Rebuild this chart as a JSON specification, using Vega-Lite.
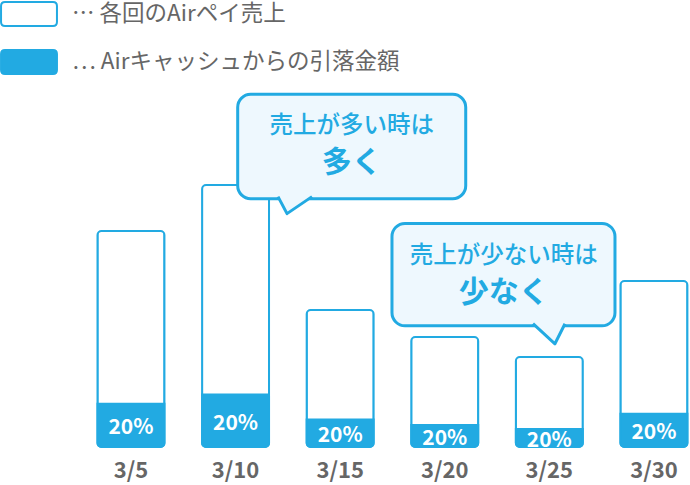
{
  "$schema": "https://vega.github.io/schema/vega-lite/v6.json",
  "width": 690,
  "height": 447,
  "autosize": {"type": "none"},
  "padding": {"top": 0, "left": 0, "right": 0, "bottom": 38},
  "background": "white",
  "config": {
    "view": {"stroke": null},
    "font": "Noto Sans CJK JP",
    "axis": {"grid": false}
  },
  "data": {
    "values": [
      {"日付": "3/5", "売上": 216, "引落": 43.2, "割合": 0.2},
      {"日付": "3/10", "売上": 262, "引落": 52.4, "割合": 0.2},
      {"日付": "3/15", "売上": 137, "引落": 27.4, "割合": 0.2},
      {"日付": "3/20", "売上": 110, "引落": 22, "割合": 0.2},
      {"日付": "3/25", "売上": 90, "引落": 18, "割合": 0.2},
      {"日付": "3/30", "売上": 166, "引落": 33.2, "割合": 0.2}
    ]
  },
  "resolve": {"scale": {"x": "independent", "y": "independent"}},
  "layer": [
    {
      "mark": {"type": "bar", "cornerRadius": 4, "stroke": "#22AAE2", "strokeWidth": 2},
      "encoding": {
        "x": {
          "field": "日付", "type": "nominal", "sort": null,
          "scale": {"type": "band", "range": [97.5, 687.4], "paddingInner": 0.36, "paddingOuter": 0},
          "axis": {"title": null, "domain": false, "ticks": false, "labelAngle": 0, "labelFontSize": 22, "labelFontWeight": "bold", "labelColor": "#666666", "labelPadding": 13, "labelFont": "Noto Sans CJK JP"}
        },
        "y": {"field": "売上", "type": "quantitative", "scale": {"domain": [0, 447]}, "axis": null},
        "fill": {
          "datum": "各回のAirペイ売上",
          "type": "nominal",
          "scale": {"domain": ["各回のAirペイ売上", "Airキャッシュからの引落金額"], "range": ["#ffffff", "#22AAE2"]},
          "legend": {
            "title": null,
            "orient": "none",
            "legendX": 16,
            "legendY": 1,
            "symbolType": "M-2,-1L2,-1Q2.33,-1 2.33,-0.67L2.33,0.67Q2.33,1 2,1L-2,1Q-2.33,1 -2.33,0.67L-2.33,-0.67Q-2.33,-1 -2,-1Z",
            "symbolSize": 576,
            "symbolStrokeColor": "#22AAE2",
            "symbolStrokeWidth": 2,
            "symbolOpacity": 1,
            "labelFontSize": 22.5,
            "labelColor": "#666666",
            "labelFont": "Noto Sans CJK JP",
            "labelOffset": 30,
            "rowPadding": 16,
            "labelLimit": 600,
            "labelExpr": "'⋯  ' + datum.label"
          }
        }
      }
    },
    {
      "mark": {"type": "bar", "cornerRadiusBottomLeft": 4, "cornerRadiusBottomRight": 4, "stroke": "#22AAE2", "strokeWidth": 2},
      "encoding": {
        "x": {
          "field": "日付", "type": "nominal", "sort": null,
          "scale": {"type": "band", "range": [97.5, 687.4], "paddingInner": 0.36, "paddingOuter": 0},
          "axis": null
        },
        "y": {"field": "引落", "type": "quantitative", "scale": {"domain": [0, 447]}, "axis": null},
        "fill": {"datum": "Airキャッシュからの引落金額", "type": "nominal"}
      }
    },
    {
      "mark": {"type": "text", "color": "white", "fontSize": 21, "fontWeight": "bold", "baseline": "middle", "dy": 3, "font": "Noto Sans CJK JP"},
      "encoding": {
        "x": {
          "field": "日付", "type": "nominal", "sort": null,
          "scale": {"type": "band", "range": [97.5, 687.4], "paddingInner": 0.36, "paddingOuter": 0},
          "axis": null
        },
        "y": {"field": "引落", "type": "quantitative", "scale": {"domain": [0, 894]}, "axis": null},
        "text": {"field": "割合", "type": "quantitative", "format": ".0%"}
      }
    },
    {
      "data": {"name": "bubbles", "values": [
        {"吹き出し": "多く", "見出し": "売上が多い時は", "強調": "多く", "左": 1.52, "右": 3.70, "上": 355, "下": 250, "中心": 2.61, "尾x": 2.068, "尾y": 243.5},
        {"吹き出し": "少なく", "見出し": "売上が少ない時は", "強調": "少なく", "左": 2.995, "右": 5.127, "上": 225, "下": 122, "中心": 4.063, "尾x": 4.496, "尾y": 114}
      ]},
      "resolve": {"scale": {"x": "shared", "y": "shared"}},
      "layer": [
        {
          "mark": {"type": "rect", "cornerRadius": 13, "fill": "#EEF8FE", "stroke": "#22AAE2", "strokeWidth": 3},
          "encoding": {
            "x": {"field": "左", "type": "quantitative", "scale": {"domain": [0, 6], "range": [78.7, 706.3]}, "axis": null},
            "x2": {"field": "右"},
            "y": {"field": "上", "type": "quantitative", "scale": {"domain": [0, 447]}, "axis": null},
            "y2": {"field": "下"}
          }
        },
        {
          "mark": {"type": "point", "filled": false, "fill": "#EEF8FE", "stroke": "#22AAE2", "strokeWidth": 3, "strokeJoin": "round", "opacity": 1, "fillOpacity": 1, "strokeOpacity": 1, "size": 1156},
          "encoding": {
            "x": {"field": "尾x", "type": "quantitative"},
            "y": {"field": "尾y", "type": "quantitative"},
            "shape": {
              "field": "吹き出し", "type": "nominal",
              "scale": {"domain": ["多く", "少なく"], "range": ["M-1,-0.5L-0.47,0.5L1,-0.5", "M-0.94,-0.59L0.35,0.59L0.94,-0.59"]},
              "legend": null
            }
          }
        },
        {
          "mark": {"type": "text", "color": "#22AAE2", "fontSize": 23.5, "fontWeight": 500, "baseline": "middle", "dy": 32, "font": "Noto Sans CJK JP"},
          "encoding": {
            "x": {"field": "中心", "type": "quantitative"},
            "y": {"field": "上", "type": "quantitative"},
            "text": {"field": "見出し"}
          }
        },
        {
          "mark": {"type": "text", "color": "#22AAE2", "fontSize": 30, "fontWeight": "bold", "baseline": "middle", "dy": 69, "font": "Noto Sans CJK JP"},
          "encoding": {
            "x": {"field": "中心", "type": "quantitative"},
            "y": {"field": "上", "type": "quantitative"},
            "text": {"field": "強調"}
          }
        }
      ]
    }
  ]
}
